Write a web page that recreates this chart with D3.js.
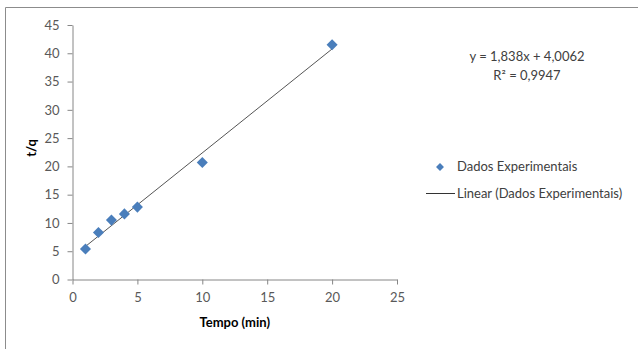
<!DOCTYPE html>
<html>
<head>
<meta charset="utf-8">
<script src="https://cdn.jsdelivr.net/npm/d3@7"></script>
<style>
  body { margin: 0; background: #fff; }
  text { font-family: Lato, "Liberation Sans", sans-serif; }
</style>
</head>
<body>
<svg id="chart" width="638" height="349"></svg>
<script>
// dati
const tempo = [1, 2, 3, 4, 5, 10, 20]
const tq = [5.4, 8.3, 10.5, 11.6, 12.8, 20.7, 41.5]
const slope = 1.838
const intercept = 4.0062
const xTicks = [0, 5, 10, 15, 20, 25]
const yTicks = [0, 5, 10, 15, 20, 25, 30, 35, 40, 45]
const eqLabel = 'y = 1,838x + 4,0062'
const r2Label = 'R² = 0,9947'
const pointLabel = 'Dados Experimentais'
const lineLabel = 'Linear (Dados Experimentais)'

const svg = d3.select('#chart')
const axisColor = '#868686'
const tickColor = '#595959'
const textColor = '#404040'
const pointColor = '#4a7ebb'

// bordo del grafico (solo sopra e a sinistra visibili)
svg.append('path')
  .attr('d', 'M5.5,349 L5.5,7.5 L638,7.5')
  .attr('fill', 'none')
  .attr('stroke', '#8c8c8c')
  .attr('stroke-width', 1)

const xScale = d3.scaleLinear().domain([0, 25]).range([72.5, 397])
const yScale = d3.scaleLinear().domain([0, 45]).range([279.5, 25])

// asse x
const xAxis = svg.append('g')
  .attr('transform', `translate(0, ${yScale(0)})`)
  .call(d3.axisBottom(xScale).tickValues(xTicks).tickSize(5).tickSizeOuter(0).tickPadding(8))
// asse y
const yAxis = svg.append('g')
  .attr('transform', `translate(${xScale(0)}, 0)`)
  .call(d3.axisLeft(yScale).tickValues(yTicks).tickSize(5).tickSizeOuter(0).tickPadding(8))

svg.selectAll('.domain, .tick line').attr('stroke', axisColor)
svg.selectAll('.tick text')
  .style('font-family', 'Lato, sans-serif')
  .style('font-size', '13px')
  .attr('fill', tickColor)

// linea di tendenza
const fit = d => intercept + slope * d
const xExt = d3.extent(tempo)
svg.append('line')
  .attr('x1', xScale(xExt[0])).attr('y1', yScale(fit(xExt[0])))
  .attr('x2', xScale(xExt[1])).attr('y2', yScale(fit(xExt[1])))
  .attr('stroke', '#555')
  .attr('stroke-width', 1)

// punti sperimentali
const diamond = d3.symbol().type(d3.symbolDiamond2).size(78)
svg.selectAll('.pt')
  .data(tempo.map((t, i) => [t, tq[i]]))
  .join('path')
  .attr('class', 'pt')
  .attr('d', diamond)
  .attr('transform', d => `translate(${xScale(d[0])}, ${yScale(d[1])})`)
  .attr('fill', pointColor)

// titoli degli assi
svg.append('text')
  .attr('transform', 'translate(36, 148) rotate(-90)')
  .attr('text-anchor', 'middle')
  .style('font-size', '13px')
  .style('font-weight', 'bold')
  .attr('fill', '#000')
  .text('t/q')

svg.append('text')
  .attr('x', xScale(12.5))
  .attr('y', 327)
  .attr('text-anchor', 'middle')
  .style('font-size', '13px')
  .style('font-weight', 'bold')
  .attr('fill', '#000')
  .text('Tempo (min)')

// equazione
svg.append('text')
  .attr('x', 527).attr('y', 61)
  .attr('text-anchor', 'middle')
  .style('font-size', '13px')
  .attr('fill', textColor)
  .text(eqLabel)
svg.append('text')
  .attr('x', 527).attr('y', 80)
  .attr('text-anchor', 'middle')
  .style('font-size', '13px')
  .attr('fill', textColor)
  .text(r2Label)

// legenda
svg.append('path')
  .attr('d', d3.symbol().type(d3.symbolDiamond2).size(40))
  .attr('transform', 'translate(440, 167)')
  .attr('fill', pointColor)
svg.append('text')
  .attr('x', 457).attr('y', 171)
  .style('font-size', '13px')
  .attr('fill', textColor)
  .text(pointLabel)

svg.append('line')
  .attr('x1', 426).attr('x2', 455)
  .attr('y1', 193.5).attr('y2', 193.5)
  .attr('stroke', '#333')
  .attr('stroke-width', 1)
svg.append('text')
  .attr('x', 457).attr('y', 198)
  .style('font-size', '13px')
  .attr('fill', textColor)
  .text(lineLabel)
</script>
</body>
</html>
